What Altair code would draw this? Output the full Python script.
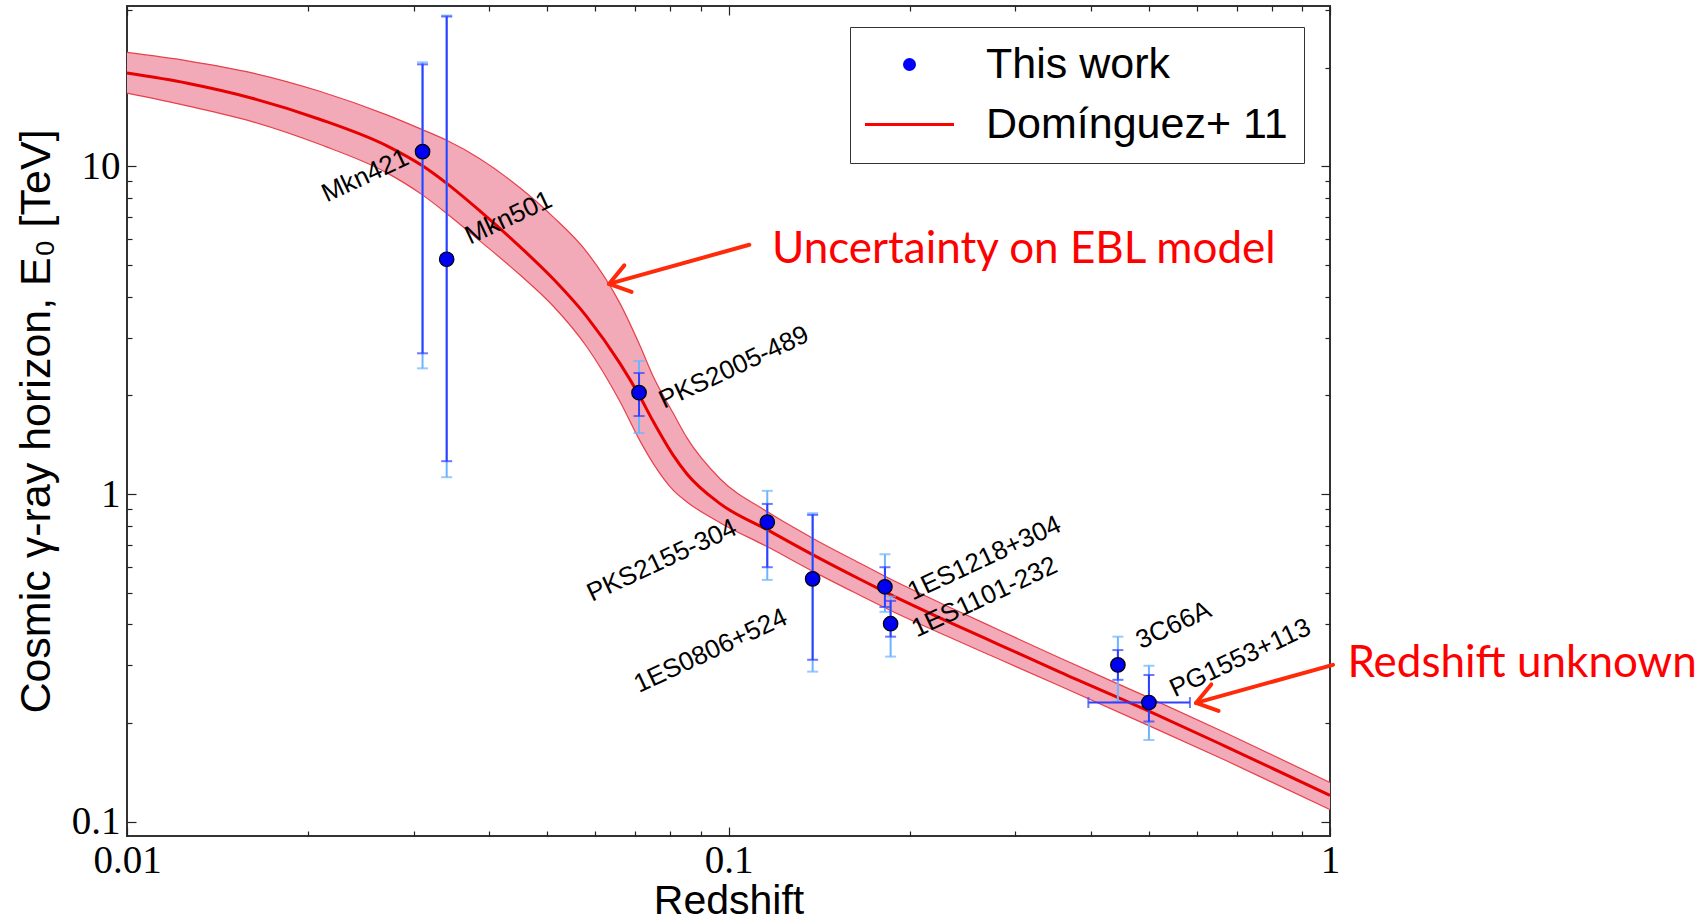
import altair as alt
import pandas as pd

# ---------------- data ----------------
# Domínguez+ 11 model: cosmic gamma-ray horizon vs redshift (central, upper, lower)
model_z = [0.0100, 0.0126, 0.0162, 0.0209, 0.0271, 0.0309, 0.0340, 0.0386, 0.0450, 0.0511,
           0.0582, 0.0660, 0.0713, 0.0749, 0.0809, 0.0853, 0.0968, 0.1163, 0.1382, 0.1654,
           0.1834, 0.2361, 0.2827, 0.3557, 0.5019, 0.6742, 1.0]
model_E = [19.28, 17.95, 16.13, 13.94, 11.54, 10.08, 8.88, 7.32, 5.69, 4.54,
           3.47, 2.505, 1.978, 1.671, 1.315, 1.152, 0.935, 0.776, 0.652, 0.5494,
           0.4996, 0.4017, 0.3461, 0.2862, 0.2168, 0.1689, 0.1202]
model_E_hi = [22.29, 21.02, 19.28, 16.97, 14.35, 12.98, 12.02, 10.56, 8.61, 7.02,
              5.47, 3.82, 2.83, 2.293, 1.767, 1.484, 1.114, 0.881, 0.732, 0.615,
              0.557, 0.4465, 0.3834, 0.3158, 0.2383, 0.1858, 0.1317]
model_E_lo = [16.75, 15.32, 13.69, 11.69, 9.546, 8.22, 7.19, 5.93, 4.67, 3.75,
              2.807, 1.917, 1.451, 1.243, 1.028, 0.946, 0.818, 0.689, 0.5808, 0.4909,
              0.4465, 0.3616, 0.3125, 0.2594, 0.1957, 0.1531, 0.1089]

# This work: sources
src_names = ["Mkn421", "Mkn501", "PKS2005-489", "PKS2155-304", "1ES0806+524",
             "1ES1218+304", "1ES1101-232", "3C66A", "PG1553+113"]
src_z = [0.031, 0.034, 0.071, 0.116, 0.138, 0.182, 0.186, 0.444, 0.50]
src_E = [11.1, 5.21, 2.04, 0.821, 0.551, 0.521, 0.402, 0.301, 0.231]
stat_lo = [2.69, 1.26, 1.73, 0.598, 0.312, 0.452, 0.367, 0.271, 0.202]
stat_hi = [20.5, 28.7, 2.34, 0.933, 0.864, 0.598, 0.472, 0.334, 0.2805]
tot_lo = [2.42, 1.126, 1.535, 0.547, 0.287, 0.437, 0.319, 0.2325, 0.1776]
tot_hi = [20.8, 28.9, 2.55, 1.023, 0.874, 0.655, 0.487, 0.367, 0.299]
# name label anchors (data units)
label_z = [0.02148, 0.03718, 0.0781, 0.0593, 0.0710, 0.2025, 0.2055, 0.4850, 0.5520]
label_E = [7.76, 5.77, 1.82, 0.468, 0.247, 0.4735, 0.365, 0.336, 0.2395]

# PG1553+113: redshift unknown -> horizontal range
pg_z_range = [0.3965, 0.585]
pg_E = 0.231

# annotations (data units)
arrow_id = ["a1", "a1", "h1", "h1", "h1", "a2", "a2", "h2", "h2", "h2"]
arrow_k = [0, 1, 0, 1, 2, 0, 1, 0, 1, 2]
arrow_z = [0.1083, 0.06328, 0.06711, 0.06328, 0.06901, 1.0116, 0.5987, 0.6348, 0.5987, 0.6528]
arrow_E = [5.77, 4.38, 4.99, 4.38, 4.144, 0.3011, 0.2304, 0.2624, 0.2304, 0.2178]
note_text = ["Uncertainty on EBL model", "Redshift unknown"]
note_z = [0.1181, 1.069]
note_E = [5.08, 0.2772]

x_major = [0.01, 0.1, 1]
x_ticks = [0.01, 0.02, 0.03, 0.04, 0.05, 0.06, 0.07, 0.08, 0.09,
           0.1, 0.2, 0.3, 0.4, 0.5, 0.6, 0.7, 0.8, 0.9, 1]
y_major = [0.1, 1, 10]
y_ticks = [0.1, 0.2, 0.3, 0.4, 0.5, 0.6, 0.7, 0.8, 0.9,
           1, 2, 3, 4, 5, 6, 7, 8, 9, 10, 20, 30]
series_domain = ["This work", "Domínguez+ 11"]

# ---------------- tables ----------------
model_df = pd.DataFrame({"z": model_z, "E": model_E, "E_hi": model_E_hi, "E_lo": model_E_lo})
src_df = pd.DataFrame({"name": src_names, "z": src_z, "E": src_E,
                       "stat_lo": stat_lo, "stat_hi": stat_hi,
                       "tot_lo": tot_lo, "tot_hi": tot_hi,
                       "lz": label_z, "lE": label_E})
tot_caps = pd.DataFrame({"z": src_z + src_z, "E": tot_lo + tot_hi})
stat_caps = pd.DataFrame({"z": src_z + src_z, "E": stat_lo + stat_hi})
pg_df = pd.DataFrame({"z0": [pg_z_range[0]], "z1": [pg_z_range[1]], "E": [pg_E]})
pg_caps = pd.DataFrame({"z": pg_z_range, "E": [pg_E, pg_E]})
arrow_df = pd.DataFrame({"id": arrow_id, "k": arrow_k, "z": arrow_z, "E": arrow_E})
note_df = pd.DataFrame({"text": note_text, "z": note_z, "E": note_E})
legend_df = pd.DataFrame({"series": pd.Series([], dtype=str)})

# ---------------- scales & axes ----------------
W, H = 1203, 830
xscale = alt.Scale(type="log", domain=[0.01, 1.0], nice=False)
yscale = alt.Scale(type="log", domain=[0.0904, 30.9], nice=False)

major_test = "abs(log(datum.value)/LN10 - round(log(datum.value)/LN10)) < 0.001"
tick_size = {"condition": {"test": major_test, "value": 9}, "value": 5}


def tick_axis(orient, offset, values):
    return alt.Axis(orient=orient, offset=offset, values=values, labels=False,
                    domain=False, grid=False, title=None, ticks=True,
                    tickSize=tick_size, tickColor="#222222", tickWidth=1.2)


ax_x_main = alt.Axis(orient="bottom", values=x_major, format="~g",
                     labelFont="Liberation Serif", labelFontSize=39, labelColor="black",
                     labelPadding=5, labelFlush=False, labelOverlap=False,
                     ticks=False, tickSize=0, domain=False, grid=False,
                     title="Redshift", titleFont="Liberation Sans", titleFontSize=41,
                     titleFontWeight="normal", titleColor="black",
                     titleX=W / 2, titleY=77, titleBaseline="alphabetic", titleAlign="center")
ax_y_main = alt.Axis(orient="left", values=y_major, format="~g",
                     labelFont="Liberation Serif", labelFontSize=39, labelColor="black",
                     labelPadding=7, labelFlush=False, labelOverlap=False,
                     ticks=False, tickSize=0, domain=False, grid=False,
                     title="Cosmic γ-ray horizon, E₀ [TeV]", titleFont="Liberation Sans",
                     titleFontSize=43, titleFontWeight="normal", titleColor="black",
                     titleX=-78, titleY=H / 2, titleAngle=270,
                     titleBaseline="alphabetic", titleAlign="center")

X = lambda f, ax=None: alt.X(f, scale=xscale, axis=ax)
Y = lambda f, ax=None: alt.Y(f, scale=yscale, axis=ax)

# ---------------- layers ----------------
band = alt.Chart(model_df).mark_area(color="#F2AAB8", interpolate="monotone").encode(
    x=X("z:Q", ax_x_main), y=Y("E_lo:Q", ax_y_main), y2="E_hi:Q")
edge_hi = alt.Chart(model_df).mark_line(color="#E8404A", strokeWidth=1.2, interpolate="monotone").encode(
    x=X("z:Q", tick_axis("top", -H, x_ticks)), y=Y("E_hi:Q", tick_axis("right", -W, y_ticks)))
edge_lo = alt.Chart(model_df).mark_line(color="#E8404A", strokeWidth=1.2, interpolate="monotone").encode(
    x=X("z:Q", tick_axis("bottom", -H, x_ticks)), y=Y("E_lo:Q", tick_axis("left", -W, y_ticks)))
central = alt.Chart(model_df).mark_line(color="#E60000", strokeWidth=3, interpolate="monotone").encode(
    x=X("z:Q"), y=Y("E:Q"))

light_col = "#6CB4FF"
dark_col = "#2F3FFF"
tot_bars = alt.Chart(src_df).mark_rule(color=light_col, strokeWidth=2).encode(
    x=X("z:Q"), y=Y("tot_lo:Q"), y2="tot_hi:Q")
tot_cap = alt.Chart(tot_caps).mark_tick(color=light_col, orient="horizontal", size=11, thickness=2).encode(
    x=X("z:Q"), y=Y("E:Q"))
stat_bars = alt.Chart(src_df).mark_rule(color=dark_col, strokeWidth=2).encode(
    x=X("z:Q"), y=Y("stat_lo:Q"), y2="stat_hi:Q")
stat_cap = alt.Chart(stat_caps).mark_tick(color=dark_col, orient="horizontal", size=11, thickness=2).encode(
    x=X("z:Q"), y=Y("E:Q"))
pg_bar = alt.Chart(pg_df).mark_rule(color=dark_col, strokeWidth=2).encode(
    x=X("z0:Q"), x2="z1:Q", y=Y("E:Q"))
pg_cap = alt.Chart(pg_caps).mark_tick(color=dark_col, orient="vertical", size=11, thickness=2).encode(
    x=X("z:Q"), y=Y("E:Q"))

points = alt.Chart(src_df).mark_point(filled=True, size=210, fill="#0000F0", stroke="#000000",
                                      strokeWidth=1.2, opacity=1).encode(
    x=X("z:Q"), y=Y("E:Q"))

names = alt.Chart(src_df).mark_text(angle=335, align="left", baseline="alphabetic",
                                    font="Liberation Sans", fontSize=26, color="black").encode(
    x=X("lz:Q"), y=Y("lE:Q"), text="name:N")

arrows = alt.Chart(arrow_df).mark_line(color="#FF2A0A", strokeWidth=4, strokeCap="round",
                                       strokeJoin="round").encode(
    x=X("z:Q"), y=Y("E:Q"), detail="id:N", order="k:Q")
notes = alt.Chart(note_df).mark_text(align="left", baseline="alphabetic", font="Lato",
                                     fontSize=44, color="#FF0000").encode(
    x=X("z:Q"), y=Y("E:Q"), text="text:N")

leg = alt.Legend(title=None, orient="none", legendX=723, legendY=21,
                 labelFont="Liberation Sans", labelFontSize=43, labelColor="black",
                 labelBaseline="middle", labelOffset=55, labelLimit=0,
                 symbolSize=100, symbolStrokeWidth=3, symbolOffset=22,
                 padding=16, rowPadding=16, strokeColor="#333333", fillColor="white")
legend_layer = alt.Chart(legend_df).mark_point(filled=True, size=100, strokeWidth=3, opacity=1).encode(
    fill=alt.Fill("series:N", scale=alt.Scale(domain=series_domain, range=["#0000FF", "#FF0000"]), legend=leg),
    stroke=alt.Stroke("series:N", scale=alt.Scale(domain=series_domain, range=["#0000FF", "#FF0000"]), legend=leg),
    shape=alt.Shape("series:N", scale=alt.Scale(domain=series_domain, range=["circle", "M-8.9,0H8.9"]), legend=leg),
)

chart = alt.layer(
    band, edge_hi, edge_lo, central,
    tot_bars, tot_cap, stat_bars, stat_cap, pg_bar, pg_cap,
    points, names, arrows, notes, legend_layer
).resolve_axis(x="independent", y="independent").properties(
    width=W, height=H,
    autosize=alt.AutoSizeParams(type="none"),
    padding={"left": 127, "top": 6, "right": 1708 - 127 - W, "bottom": 918 - 6 - H},
    background="white",
).configure_view(stroke="#333333", strokeWidth=2)

chart.save("out.html", embed_options={"renderer": "svg", "actions": False})
